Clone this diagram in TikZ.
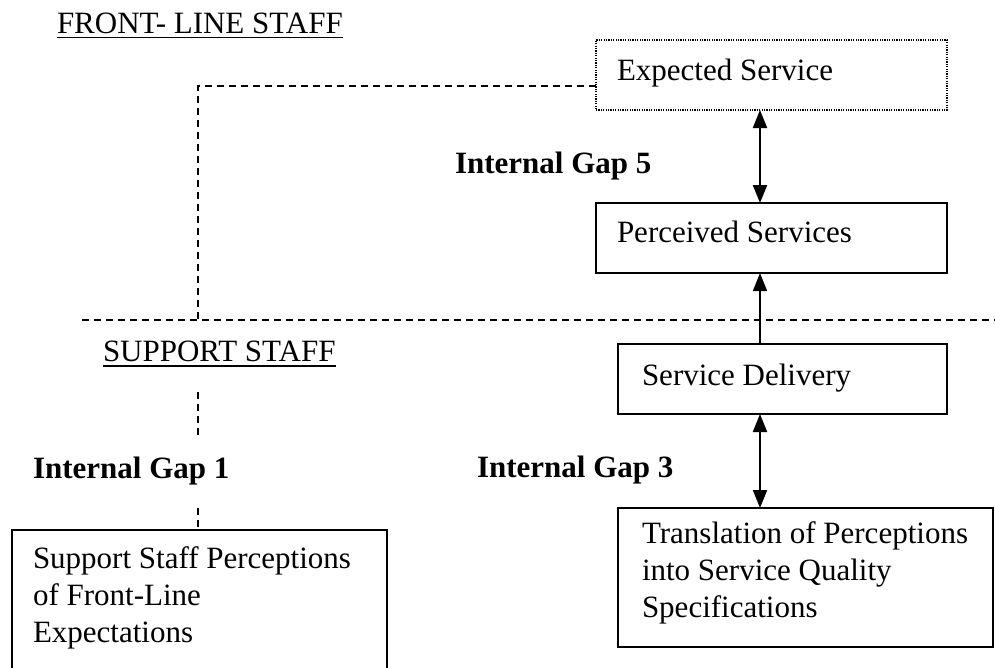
\documentclass[tikz,border=0pt]{standalone}
\usepackage{fontspec}
\setmainfont{Liberation Serif}
\usetikzlibrary{arrows.meta}
\begin{document}
\begin{tikzpicture}[x=1pt,y=-1pt,
  every node/.style={font=\fontsize{31}{37}\selectfont, inner sep=0pt, outer sep=0pt},
  box/.style={draw, line width=1.6pt, anchor=north west},
  dotbox/.style={box, dash pattern=on 1.2pt off 1.2pt, line width=1.4pt},
  gap/.style={font=\fontsize{31}{37}\selectfont\bfseries, anchor=base west},
  txt/.style={anchor=base west},
  multi/.style={anchor=north west, align=left},
  divider/.style={dash pattern=on 7pt off 5pt, line width=1.8pt},
  link/.style={dash pattern=on 7pt off 5pt, line width=1.6pt},
  dbl/.style={{Triangle[width=14pt,length=18pt]}-{Triangle[width=14pt,length=18pt]}, line width=2pt},
  up/.style={-{Triangle[width=14pt,length=18pt]}, line width=1.5pt},
  uline/.style={line width=1.5pt}
]
\useasboundingbox (0,0) rectangle (995,667);

% section headings
\node[txt] (fl) at (57,33) {FRONT- LINE STAFF};
\draw[uline] ([yshift=-4.5pt]fl.base west) -- ([yshift=-4.5pt]fl.base east);
\node[txt] (ss) at (103,361) {SUPPORT STAFF};
\draw[uline] ([yshift=-5pt]ss.base west) -- ([yshift=-5pt]ss.base east);

% boxes
\node[dotbox, minimum width=351pt, minimum height=70pt] (exp) at (596,40) {};
\node[box, minimum width=351pt, minimum height=70pt] (perc) at (596,203) {};
\node[box, minimum width=329pt, minimum height=70pt] (sd) at (618,344) {};
\node[box, minimum width=375pt, minimum height=139pt] (trans) at (618,508) {};
\node[box, minimum width=375pt, minimum height=170pt] (supp) at (12,530) {};

% box texts
\node[txt] (expT) at (617,80) {Expected Service};
\node[txt] (percT) at (617,242) {Perceived Services};
\node[txt] (sdT) at (642,385) {Service Delivery};
\node[multi] (transT) at (642,522) {Translation of Perceptions\\into Service Quality\\Specifications};
\node[multi] (suppT) at (33,547) {Support Staff Perceptions\\of Front-Line\\Expectations};

% gap labels
\node[gap] (g5) at (455,173) {Internal Gap 5};
\node[gap] (g3) at (477,477) {Internal Gap 3};
\node[gap] (g1) at (33,478) {Internal Gap 1};

% arrows
\coordinate (ax) at (760,0);
\draw[dbl] (exp.south -| ax) -- (perc.north -| ax);
\draw[up] (sd.north -| ax) -- (perc.south -| ax);
\draw[dbl] (sd.south -| ax) -- (trans.north -| ax);

% staff divider and dashed links
\coordinate (divL) at (82,320);
\coordinate (divR) at (995,320);
\draw[divider] (divL) -- (divR);
\coordinate (bend) at (198,86);
\draw[link] (exp.west |- bend) -- (bend) -- (bend |- divL);
\coordinate (g1a) at (198,392);
\coordinate (g1b) at (198,435);
\coordinate (g1c) at (198,508);
\draw[link] (g1a) -- (g1b);
\draw[link] (g1c) -- (supp.north -| g1c);
\end{tikzpicture}
\end{document}
